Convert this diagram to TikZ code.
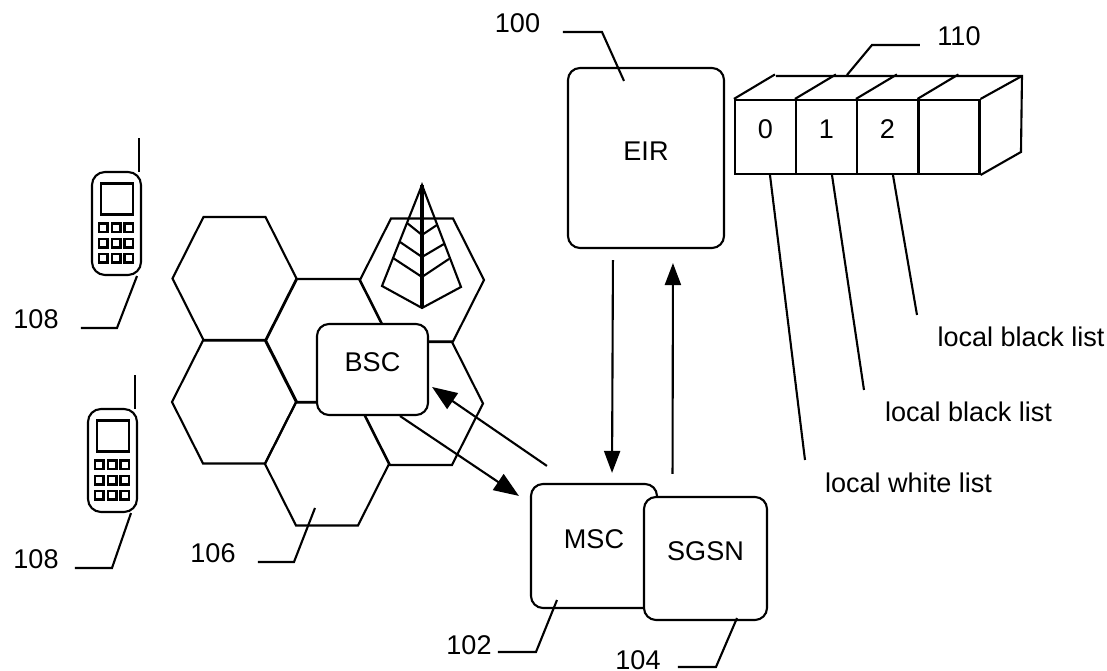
\documentclass[tikz,border=0pt]{standalone}
\usepackage{fontspec}
\setmainfont{Liberation Sans}
\usetikzlibrary{arrows.meta}

\tikzset{
  boxnode/.style={draw, fill=white, rounded corners=.12cm, inner sep=0, text depth=.14cm},
  cellnode/.style={draw, inner sep=0, minimum width=.61cm, minimum height=.74cm, text depth=.16cm},
  phonenode/.style={draw, rounded corners=.13cm, inner sep=0, minimum width=.49cm, minimum height=1.03cm},
  textnode/.style={inner sep=0},
  flow/.style={-{Triangle[length=.22cm,width=.16cm]}},
  bigflow/.style={-{Triangle[length=.25cm,width=.19cm]}}
}

\begin{document}
\begin{tikzpicture}[y=-1cm, line width=.6pt, font=\fontsize{7.7}{9}\selectfont]

\useasboundingbox (0,0) rectangle (11.07,6.71);

% cells
\foreach \x/\y in {2.345/2.785, 2.34/4.02, 3.27/4.64, 3.28/3.405, 4.22/2.80, 4.21/4.035}
  \draw[shift={(\x,\y)}] (-.62,0) -- (-.31,-.615) -- (.31,-.615) -- (.62,0) -- (.31,.615) -- (-.31,.615) -- cycle;

% tower
\draw (4.22,1.85)--(3.82,2.86)--(4.22,3.08)--(4.61,2.87)--cycle;
\draw[line width=.9pt] (4.22,1.85)--(4.22,3.08);
\draw (4.07,2.23)--(4.22,2.35)--(4.37,2.25);
\draw (4.00,2.42)--(4.22,2.57)--(4.44,2.44);
\draw (3.93,2.58)--(4.22,2.77)--(4.49,2.59);

% phones
\foreach \n/\x/\y in {a/1.165/2.235, b/1.125/4.605} {
  \node[phonenode] (phone\n) at (\x,\y) {};
  \draw[shift={(\x,\y)}] (-.155,-.40) rectangle (.165,-.09);
  \draw[shift={(\x,\y)}] (.225,-.515)--(.225,-.85);
  \foreach \kx in {-.175,-.045,.08}
    \foreach \ky in {0,.155,.305}
      \draw[shift={(\x,\y)}, line width=.8pt] (\kx,\ky) rectangle ++(.085,.085);
}

% boxes
\node[boxnode, minimum width=1.11cm, minimum height=.91cm] (bsc) at (3.725,3.695) {BSC};
\node[boxnode, minimum width=1.56cm, minimum height=1.80cm] (eir) at (6.46,1.58) {EIR};
\node[boxnode, minimum width=1.26cm, minimum height=1.24cm] (msc) at (5.94,5.46) {MSC};
\node[boxnode, minimum width=1.23cm, minimum height=1.23cm] (sgsn) at (7.055,5.585) {SGSN};

% list store
\foreach \n/\x/\t in {0/7.655/0, 1/8.265/1, 2/8.875/2, 3/9.49/{}}
  \node[cellnode] (cell\n) at (\x,1.37) {\t};
\foreach \n in {0,1,2,3}
  \draw (cell\n.north west) -- ++(.41,-.245);
\coordinate (backleft) at (7.76,.76);
\coordinate (backright) at (10.22,.76);
\draw (backleft) -- (backright) -- (10.21,1.52) -- (cell3.south east);
\draw (cell3.north east) -- (backright);

% arrows
\draw[flow, shorten <=.11cm, shorten >=.10cm] ([xshift=-.33cm]eir.south) -- ([xshift=.18cm]msc.north);
\draw[flow, shorten <=.22cm, shorten >=.14cm] ([xshift=-.33cm]sgsn.north) -- ([xshift=.27cm]eir.south);
\draw[bigflow] ([xshift=.275cm]bsc.south) -- ([shift={(-.11,.13)}]msc.north west);
\draw[bigflow] ([shift={(.17,-.17)}]msc.north west) -- ([shift={(.03,.175)}]bsc.east);

% labels
\node[textnode] (n100) at (5.175,.23) {100};
\node[textnode] (n110) at (9.59,.365) {110};
\node[textnode] (n108a) at (.36,3.19) {108};
\node[textnode] (n108b) at (.36,5.59) {108};
\node[textnode] (n106) at (2.13,5.53) {106};
\node[textnode] (n102) at (4.69,6.45) {102};
\node[textnode] (n104) at (6.38,6.60) {104};
\node[textnode] (white) at (9.085,4.83) {local white list};
\node[textnode] (black1) at (9.685,4.12) {local black list};
\node[textnode] (black2) at (10.21,3.37) {local black list};

% leaders
\coordinate (end100) at (5.63,.32);
\coordinate (end110) at (9.20,.45);
\coordinate (back110) at (8.47,.75);
\coordinate (end108a) at (.81,3.28);
\coordinate (end108b) at (.75,5.68);
\coordinate (end106) at (2.58,5.62);
\coordinate (end102) at (4.98,6.52);
\coordinate (end104) at (6.78,6.67);
\coordinate (endwhite) at (8.05,4.60);
\coordinate (endblack1) at (8.64,3.90);
\coordinate (endblack2) at (9.17,3.15);
\draw (end100) -- (6.02,.32) -- ([shift={(-.22,.14)}]eir.north);
\draw (end110) -- (8.72,.45) -- (back110);
\draw ([xshift=.205cm]phonea.south) -- (1.17,3.28) -- (end108a);
\draw ([xshift=.185cm]phoneb.south) -- (1.12,5.68) -- (end108b);
\draw (3.15,5.08) -- (2.94,5.62) -- (end106);
\draw ([shift={(-.37,-.09)}]msc.south) -- (5.36,6.52) -- (end102);
\draw ([shift={(.315,-.03)}]sgsn.south) -- (7.16,6.67) -- (end104);
\draw ([xshift=.045cm]cell0.south) -- (endwhite);
\draw ([xshift=.055cm]cell1.south) -- (endblack1);
\draw ([xshift=.055cm]cell2.south) -- (endblack2);

\end{tikzpicture}
\end{document}
